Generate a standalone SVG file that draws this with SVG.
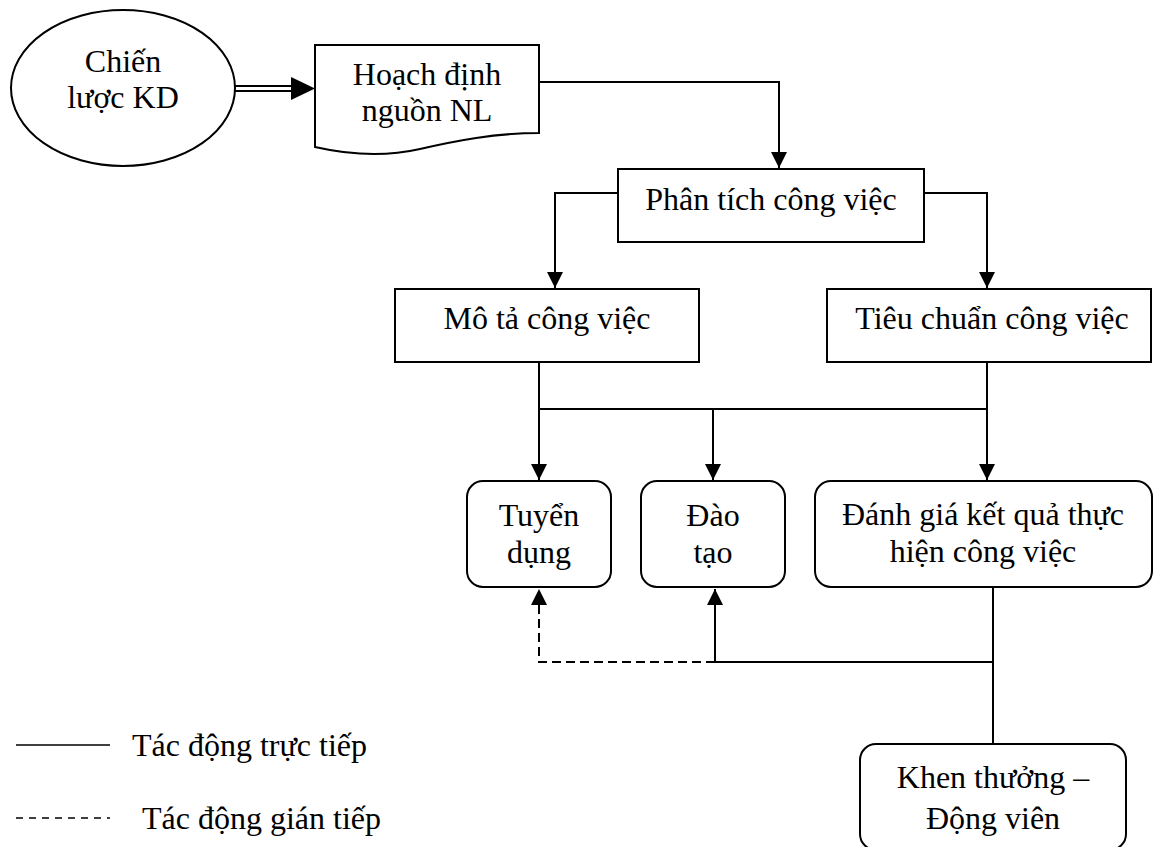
<svg xmlns="http://www.w3.org/2000/svg" width="1153" height="847" viewBox="0 0 1153 847">
<defs>
<style>
.n{fill:#fff;stroke:#000;stroke-width:2}
.t{font-family:"Liberation Serif","Times New Roman",serif;font-size:32px;fill:#000;text-anchor:middle}
.lg{font-family:"Liberation Serif","Times New Roman",serif;font-size:32px;fill:#000}
.c{fill:none;stroke:#000;stroke-width:2}
.d{stroke-dasharray:9 5}
</style>
<marker id="ah" markerWidth="16" markerHeight="16" viewBox="0 0 16 16" refX="16" refY="8" orient="auto" markerUnits="userSpaceOnUse">
<path d="M0,0 L16,8 L0,16 Z" fill="#000"/>
</marker>
</defs>
<rect width="1153" height="847" fill="#fff"/>
<g id="connectors">
<line x1="235" y1="86" x2="292" y2="86" class="c" stroke-width="1.6"/>
<line x1="235" y1="91" x2="292" y2="91" class="c" stroke-width="1.6"/>
<path d="M291,77 L315,88.5 L291,100 Z" fill="#000"/>
<path d="M539,82 H779 V168" class="c" marker-end="url(#ah)"/>
<path d="M618,193 H555 V288" class="c" marker-end="url(#ah)"/>
<path d="M924,193 H987 V288" class="c" marker-end="url(#ah)"/>
<path d="M539,362 V409 H987 V362" class="c"/>
<path d="M539,409 V480" class="c" marker-end="url(#ah)"/>
<path d="M713,409 V480" class="c" marker-end="url(#ah)"/>
<path d="M987,409 V480" class="c" marker-end="url(#ah)"/>
<path d="M993,587 V744" class="c"/>
<path d="M993,662 H715" class="c"/>
<path d="M715,662 V589" class="c" marker-end="url(#ah)"/>
<path d="M715,662 H539 V589" class="c d" marker-end="url(#ah)"/>
</g>
<g id="chien-luoc">
<ellipse cx="123" cy="88" rx="112" ry="78" class="n"/>
<text class="t" x="123" y="72">Chiến</text>
<text class="t" x="123" y="108">lược KD</text>
</g>
<g id="hoach-dinh">
<path d="M315,45 H539 V133 C495,133 455,141 420,149 C385,157 350,155 315,147 Z" class="n"/>
<text class="t" x="427" y="85">Hoạch định</text>
<text class="t" x="427" y="121">nguồn NL</text>
</g>
<g id="phan-tich">
<rect x="618" y="169" width="306" height="73" class="n"/>
<text class="t" x="771" y="210">Phân tích công việc</text>
</g>
<g id="mo-ta">
<rect x="395" y="289" width="304" height="73" class="n"/>
<text class="t" x="547" y="329">Mô tả công việc</text>
</g>
<g id="tieu-chuan">
<rect x="827" y="289" width="324" height="73" class="n"/>
<text class="t" x="992" y="329">Tiêu chuẩn công việc</text>
</g>
<g id="tuyen-dung">
<rect x="467" y="481" width="144" height="106" rx="16" class="n"/>
<text class="t" x="539" y="526">Tuyển</text>
<text class="t" x="539" y="563">dụng</text>
</g>
<g id="dao-tao">
<rect x="641" y="481" width="144" height="106" rx="16" class="n"/>
<text class="t" x="713" y="526">Đào</text>
<text class="t" x="713" y="563">tạo</text>
</g>
<g id="danh-gia">
<rect x="815" y="481" width="337" height="106" rx="16" class="n"/>
<text class="t" x="983" y="525">Đánh giá kết quả thực</text>
<text class="t" x="983" y="562">hiện công việc</text>
</g>
<g id="khen-thuong">
<rect x="860" y="744" width="266" height="106" rx="16" class="n"/>
<text class="t" x="993" y="788">Khen thưởng –</text>
<text class="t" x="993" y="829">Động viên</text>
</g>
<g id="legend">
<line x1="16" y1="745" x2="110" y2="745" stroke="#000" stroke-width="1.5"/>
<text class="lg" x="132" y="756">Tác động trực tiếp</text>
<line x1="16" y1="818" x2="110" y2="818" stroke="#000" stroke-width="1.5" stroke-dasharray="7 6"/>
<text class="lg" x="142" y="829">Tác động gián tiếp</text>
</g>
</svg>
